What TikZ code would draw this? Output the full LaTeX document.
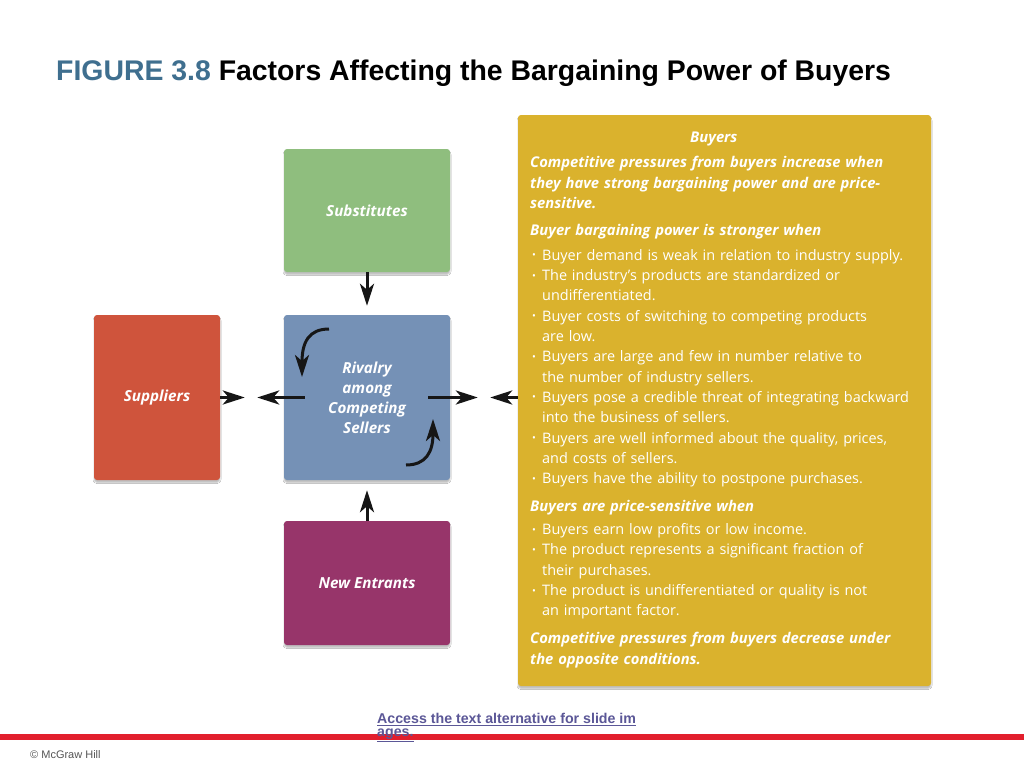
\documentclass[tikz,border=0pt]{standalone}
\usepackage{fontspec}
\setmainfont{Open Sans}[Ligatures=NoCommon]
\newfontfamily\titlefont{Liberation Sans}
\usetikzlibrary{arrows.meta, positioning, shadows.blur}

\definecolor{substgreen}{HTML}{8FBE7E}
\definecolor{rivalblue}{HTML}{7591B6}
\definecolor{suppred}{HTML}{CF543C}
\definecolor{entrpurple}{HTML}{97356A}
\definecolor{buyyellow}{HTML}{DAB22D}
\definecolor{figblue}{HTML}{3F6F8F}
\definecolor{linkpurple}{HTML}{5B5797}
\definecolor{barred}{HTML}{E21F2D}
\definecolor{arrowblack}{HTML}{161616}
\definecolor{footgray}{HTML}{555555}

% bullet line of the buyers list, second argument is the wrapped line
\newcommand{\bitem}[2]{\par\noindent\makebox[12pt][l]{\hspace{2pt}\raisebox{1.5pt}{\scalebox{0.7}{\textbullet}}}#1\par
  \ifx\relax#2\relax\else\noindent\hspace*{12pt}#2\par\fi}
\newcommand{\bhead}[1]{{\bfseries\itshape\fontsize{14.8}{20.3}\selectfont #1}}

\begin{document}
\begin{tikzpicture}[
    x=1pt, y=-1pt,
    force/.style={rectangle, rounded corners=3pt, fill=#1, text=white, align=center,
        font=\bfseries\itshape\fontsize{15.2}{20}\selectfont,
        blur shadow={shadow xshift=0pt, shadow yshift=-2.5pt, shadow blur radius=1pt, shadow blur steps=3, shadow opacity=25}},
    arrow/.style={-{Stealth[length=22pt, width=14pt, inset=6pt]}, line width=3pt, draw=arrowblack},
]
\useasboundingbox[fill=white] (0,0) rectangle (1024,768);

% title
\node[anchor=base west, inner sep=0pt, font=\titlefont\bfseries\fontsize{28.4}{32}\selectfont]
    (title) at (56,81) {\textcolor{figblue}{FIGURE 3.8} Factors Affecting the Bargaining Power of Buyers};

% five forces
\node[force=substgreen, minimum width=166pt, minimum height=123pt] (subst) at (367,210.5) {Substitutes};
\node[force=rivalblue, minimum width=166pt, minimum height=165pt] (rivalry) at (367,397.5) {Rivalry\\among\\Competing\\Sellers};
\node[force=suppred, minimum width=126pt, minimum height=165pt] (supp) at (157,397.5) {Suppliers};
\node[force=entrpurple, minimum width=166pt, minimum height=124pt] (entr) at (367,583) {New Entrants};
\node[force=buyyellow, minimum width=413pt, minimum height=571pt] (buyers) at (724.5,400.5) {};

\node[anchor=north west, inner sep=0pt, text width=395pt, align=left, text=white,
    font=\fontsize{14.45}{20.3}\selectfont] (buyerstext) at (530,132) {%
\hspace*{160pt}\bhead{Buyers}\par\vspace{4.7pt}
\bhead{Competitive pressures from buyers increase when\par
they have strong bargaining power and are price-\par
sensitive.}\par\vspace{6.7pt}
\bhead{Buyer bargaining power is stronger when}\par\vspace{4.7pt}
\bitem{Buyer demand is weak in relation to industry supply.}{}
\bitem{The industry's products are standardized or}{undifferentiated.}
\bitem{Buyer costs of switching to competing products}{are low.}
\bitem{Buyers are large and few in number relative to}{the number of industry sellers.}
\bitem{Buyers pose a credible threat of integrating backward}{into the business of sellers.}
\bitem{Buyers are well informed about the quality, prices,}{and costs of sellers.}
\bitem{Buyers have the ability to postpone purchases.}{}
\vspace{7.7pt}
\bhead{Buyers are price-sensitive when}\par\vspace{2.7pt}
\bitem{Buyers earn low profits or low income.}{}
\bitem{The product represents a significant fraction of}{their purchases.}
\bitem{The product is undifferentiated or quality is not}{an important factor.}
\vspace{7.7pt}
\bhead{Competitive pressures from buyers decrease under\par
the opposite conditions.}\par
};

% pressures on the rivalry box
\draw[arrow, shorten >=9pt] (subst) -- (rivalry);
\draw[arrow, shorten >=10pt] (entr) -- (rivalry);
\draw[arrow, shorten >=39pt] (supp.east) -- (rivalry.west);
\draw[arrow, shorten >=37pt] ([xshift=21pt]rivalry.west) -- (supp.east);
\draw[arrow, shorten >=40pt] ([xshift=-22pt]rivalry.east) -- (buyers.west |- rivalry.east);
\draw[arrow, shorten >=40pt] (buyers.west |- rivalry.east) -- (rivalry.east);

% rivalry swirl
\coordinate (swirlA) at (329,329);
\coordinate (swirlB) at (302,377);
\coordinate (swirlC) at (406,465);
\coordinate (swirlD) at (433,419);
\draw[arrow] (swirlA) .. controls (309,329) and (302,342) .. (swirlB);
\draw[arrow] (swirlC) .. controls (426,465) and (433,452) .. (swirlD);

% footer
\draw[barred, line width=6pt] (0,737) -- (1024,737);
\node[anchor=north west, inner sep=0pt, align=left, text=linkpurple,
    font=\titlefont\bfseries\fontsize{14.2}{13}\selectfont]
    (alttext) at (377,713) {\underline{Access the text alternative for slide im}\\\underline{ages.}};
\node[anchor=base west, inner sep=0pt, text=footgray, font=\titlefont\fontsize{11}{13}\selectfont]
    (copyright) at (30,758) {\textcopyright\ McGraw Hill};
\end{tikzpicture}
\end{document}
